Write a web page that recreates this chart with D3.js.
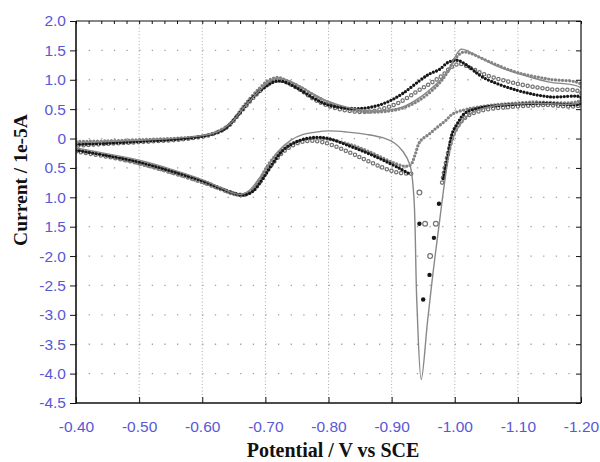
<!DOCTYPE html>
<html><head><meta charset="utf-8">
<script src="https://cdn.jsdelivr.net/npm/d3@7"></script>
<style>body{margin:0;background:#fff}</style>
</head><body>
<svg id="c" width="600" height="462"></svg>
<script>
// ---------- data ----------
const xTickValues = [-0.40,-0.50,-0.60,-0.70,-0.80,-0.90,-1.00,-1.10,-1.20];
const xTickLabels = ["-0.40","-0.50","-0.60","-0.70","-0.80","-0.90","-1.00","-1.10","-1.20"];
const yTickValues = [2.0,1.5,1.0,0.5,0,-0.5,-1.0,-1.5,-2.0,-2.5,-3.0,-3.5,-4.0,-4.5];
const yTickLabels = ["2.0","1.5","1.0","0.5","0","0.5","1.0","1.5","-2.0","-2.5","-3.0","-3.5","-4.0","-4.5"];
const xTitle = "Potential / V vs SCE";
const yTitle = "Current / 1e-5A";

// scan A: solid line  [potential V, current 1e-5 A]
const scanLine = [
 [-0.40,-0.16],[-0.45,-0.26],[-0.50,-0.37],[-0.55,-0.52],[-0.60,-0.70],[-0.63,-0.84],[-0.65,-0.93],[-0.662,-0.95],
 [-0.675,-0.88],[-0.69,-0.68],[-0.705,-0.45],[-0.72,-0.22],[-0.74,-0.03],[-0.76,0.07],[-0.78,0.11],[-0.80,0.13],
 [-0.83,0.11],[-0.86,0.07],[-0.887,0.01],[-0.905,-0.08],[-0.918,-0.22],[-0.929,-0.45],[-0.935,-0.95],[-0.94,-2.8],
 [-0.947,-4.1],[-0.957,-3.1],[-0.966,-2.25],[-0.976,-1.4],[-0.985,-0.66],[-0.992,-0.2],[-0.998,0.03],[-1.006,0.2],
 [-1.024,0.42],[-1.06,0.55],[-1.12,0.60],[-1.20,0.63],
 [-1.20,0.86],[-1.15,0.96],[-1.124,1.03],[-1.072,1.21],[-1.045,1.35],[-1.024,1.47],[-1.01,1.52],[-1.0,1.38],
 [-0.988,1.12],[-0.972,0.94],[-0.945,0.70],[-0.918,0.54],[-0.89,0.48],[-0.866,0.47],[-0.83,0.53],[-0.80,0.63],
 [-0.776,0.76],[-0.755,0.89],[-0.738,0.98],[-0.722,1.03],[-0.71,1.0],[-0.695,0.86],[-0.67,0.58],[-0.645,0.26],
 [-0.625,0.12],[-0.60,0.05],[-0.55,0.0],[-0.50,-0.03],[-0.45,-0.05],[-0.40,-0.07]
];

// scan B: filled black dots
const dotsBefore = [
 [-0.40,-0.20],[-0.45,-0.29],[-0.50,-0.40],[-0.55,-0.55],[-0.60,-0.72],[-0.63,-0.85],[-0.65,-0.93],[-0.665,-0.96],
 [-0.68,-0.90],[-0.695,-0.70],[-0.71,-0.45],[-0.73,-0.18],[-0.755,-0.03],[-0.78,0.02],[-0.80,0.0],[-0.834,-0.13],
 [-0.86,-0.24],[-0.887,-0.37],[-0.913,-0.51],[-0.928,-0.60]
];
const dotsSpike = [[-0.944,-1.45],[-0.95,-2.74],[-0.96,-2.32],[-0.967,-1.69],[-0.975,-1.11]];
const dotsAfter = [
 [-0.982,-0.68],[-0.99,-0.25],[-0.996,0.09],[-1.005,0.27],[-1.016,0.43],[-1.04,0.52],[-1.08,0.57],[-1.14,0.60],[-1.20,0.60],
 [-1.20,0.70],[-1.15,0.71],[-1.099,0.82],[-1.045,1.04],[-1.02,1.24],[-1.005,1.33],[-0.99,1.30],[-0.975,1.17],[-0.96,1.10],
 [-0.945,0.99],[-0.918,0.77],[-0.895,0.63],[-0.87,0.54],[-0.84,0.51],[-0.80,0.57],[-0.776,0.69],[-0.75,0.86],[-0.728,0.97],
 [-0.715,0.97],[-0.70,0.88],[-0.68,0.70],[-0.655,0.38],[-0.635,0.16],[-0.61,0.06],[-0.58,0.01],[-0.55,-0.02],[-0.50,-0.05],
 [-0.45,-0.08],[-0.40,-0.10]
];

// scan C: open circles
const ringsBefore = [
 [-0.40,-0.22],[-0.45,-0.31],[-0.50,-0.42],[-0.55,-0.57],[-0.60,-0.74],[-0.63,-0.86],[-0.655,-0.95],[-0.67,-0.95],
 [-0.685,-0.82],[-0.70,-0.60],[-0.715,-0.38],[-0.735,-0.17],[-0.76,-0.05],[-0.79,-0.06],[-0.834,-0.24],[-0.86,-0.37],
 [-0.887,-0.50],[-0.91,-0.58],[-0.932,-0.60]
];
const ringsSpike = [[-0.944,-0.92],[-0.953,-1.45],[-0.961,-2.0],[-0.97,-1.45]];
const ringsAfter = [
 [-0.98,-0.75],[-0.99,-0.22],[-1.0,0.12],[-1.016,0.35],[-1.04,0.47],[-1.08,0.53],[-1.14,0.57],[-1.20,0.58],
 [-1.20,0.78],[-1.15,0.84],[-1.10,0.93],[-1.05,1.08],[-1.025,1.20],[-1.008,1.27],[-0.995,1.22],[-0.98,1.07],
 [-0.96,0.93],[-0.94,0.80],[-0.915,0.63],[-0.89,0.52],[-0.865,0.46],[-0.84,0.46],[-0.81,0.52],[-0.78,0.65],
 [-0.755,0.83],[-0.735,0.95],[-0.72,0.99],[-0.705,0.93],[-0.685,0.74],[-0.66,0.44],[-0.64,0.20],[-0.615,0.07],
 [-0.58,0.0],[-0.55,-0.03],[-0.50,-0.06],[-0.45,-0.09],[-0.40,-0.12]
];

// scan D: triangles
const triScan = [
 [-0.40,-0.18],[-0.45,-0.30],[-0.50,-0.43],[-0.55,-0.58],[-0.60,-0.75],[-0.63,-0.87],[-0.65,-0.95],[-0.665,-0.97],
 [-0.678,-0.90],[-0.69,-0.72],[-0.70,-0.52],[-0.715,-0.30],[-0.735,-0.12],[-0.76,-0.02],[-0.79,0.0],[-0.834,-0.10],
 [-0.87,-0.25],[-0.90,-0.40],[-0.92,-0.47],[-0.93,-0.45],[-0.937,-0.28],[-0.945,-0.05],[-0.96,0.08],[-0.972,0.19],
 [-0.985,0.30],[-0.997,0.42],[-1.02,0.50],[-1.06,0.57],[-1.12,0.62],[-1.20,0.66],
 [-1.20,0.92],[-1.15,1.01],[-1.10,1.12],[-1.065,1.26],[-1.04,1.38],[-1.025,1.45],[-1.013,1.47],[-1.0,1.35],
 [-0.988,1.12],[-0.972,0.90],[-0.945,0.66],[-0.918,0.52],[-0.89,0.46],[-0.866,0.45],[-0.84,0.48],[-0.81,0.57],
 [-0.78,0.72],[-0.755,0.88],[-0.735,0.98],[-0.72,1.04],[-0.705,0.99],[-0.69,0.85],[-0.665,0.55],[-0.645,0.26],
 [-0.62,0.10],[-0.60,0.04],[-0.55,0.0],[-0.50,-0.02],[-0.45,-0.04],[-0.40,-0.05]
];

// ---------- drawing ----------
const L = 76, R = 581, T = 21, B = 403;
const svg = d3.select("#c");
const x = d3.scaleLinear().domain([-0.40, -1.20]).range([L, R]);
const y = d3.scaleLinear().domain([-4.5, 2.0]).range([B, T]);
const tickColor = "#5858d6";

svg.append("rect").attr("width", 600).attr("height", 462).attr("fill", "#fff");

// grid
const g = svg.append("g");
g.selectAll("line.v").data(xTickValues.slice(1, -1)).join("line")
  .attr("x1", d => x(d)).attr("x2", d => x(d)).attr("y1", T).attr("y2", B)
  .attr("stroke", "#a8a8a8").attr("stroke-width", 1).attr("stroke-dasharray", "1,2.3");
g.selectAll("line.h").data(yTickValues.slice(1, -1)).join("line")
  .attr("x1", L).attr("x2", R).attr("y1", d => y(d)).attr("y2", d => y(d))
  .attr("stroke", "#a0a0a0").attr("stroke-width", 1.3).attr("stroke-dasharray", "1.3,11.325");

// clip
svg.append("clipPath").attr("id", "clip").append("rect")
  .attr("x", L).attr("y", T).attr("width", R - L).attr("height", B - T);
const plot = svg.append("g").attr("clip-path", "url(#clip)");

const line = d3.line().x(d => x(d[0])).y(d => y(d[1])).curve(d3.curveCatmullRom.alpha(0.5));

// C rings
[ringsBefore, ringsAfter].forEach(seg => {
  plot.append("path").attr("d", line(seg)).attr("fill", "none")
    .attr("stroke", "#737373").attr("stroke-width", 4.6).attr("stroke-linecap", "round").attr("stroke-dasharray", "0,5");
  plot.append("path").attr("d", line(seg)).attr("fill", "none")
    .attr("stroke", "#fff").attr("stroke-width", 2.1).attr("stroke-linecap", "round").attr("stroke-dasharray", "0,5");
});
plot.selectAll("circle.rs").data(ringsSpike).join("circle")
  .attr("cx", d => x(d[0])).attr("cy", d => y(d[1])).attr("r", 2.4)
  .attr("fill", "#fff").attr("stroke", "#737373").attr("stroke-width", 1.2);

// D triangles
plot.append("path").attr("d", line(triScan)).attr("fill", "none")
  .attr("stroke", "#828282").attr("stroke-width", 3.3).attr("stroke-linecap", "round").attr("stroke-dasharray", "0,3.5");

// B dots
[dotsBefore, dotsAfter].forEach(seg => {
  plot.append("path").attr("d", line(seg)).attr("fill", "none")
    .attr("stroke", "#161616").attr("stroke-width", 3.3).attr("stroke-linecap", "round").attr("stroke-dasharray", "0,3.4");
});
plot.selectAll("circle.ds").data(dotsSpike).join("circle")
  .attr("cx", d => x(d[0])).attr("cy", d => y(d[1])).attr("r", 2.2).attr("fill", "#161616");

// A solid line
plot.append("path").attr("d", line(scanLine)).attr("fill", "none")
  .attr("stroke", "#888").attr("stroke-width", 1.4);

// axes
const font = "'Liberation Sans', Arial, sans-serif";
const yMinor = d3.range(-4.5, 2.0001, 0.05);
const xMinor = d3.range(-0.40, -1.2001, -0.02);
const yMinorR = d3.range(-4.5, 2.0001, 0.1);

// left
const ax = svg.append("g").attr("transform", `translate(${L},0)`);
ax.call(d3.axisLeft(y).tickValues(yMinor).tickSize(3).tickFormat(""));
ax.call(d3.axisLeft(y).tickValues(yTickValues).tickSize(6).tickPadding(4).tickFormat((d, i) => yTickLabels[i]));
// bottom
const bx = svg.append("g").attr("transform", `translate(0,${B})`);
bx.call(d3.axisBottom(x).tickValues(xMinor).tickSize(-4).tickFormat(""));
bx.call(d3.axisBottom(x).tickValues(xTickValues).tickSize(-6).tickPadding(18).tickFormat((d, i) => xTickLabels[i]));
// top
const tx = svg.append("g").attr("transform", `translate(0,${T})`);
tx.call(d3.axisTop(x).tickValues(xMinor).tickSize(-3).tickFormat(""));
// right
const rx = svg.append("g").attr("transform", `translate(${R},0)`);
rx.call(d3.axisRight(y).tickValues(yMinorR).tickSize(-3).tickFormat(""));
rx.call(d3.axisRight(y).tickValues(yTickValues).tickSize(-5).tickFormat(""));

svg.selectAll(".domain").remove();
svg.selectAll(".tick line").attr("stroke", "#111").attr("stroke-width", 1);
svg.selectAll(".tick text").attr("fill", tickColor).attr("font-family", font).attr("font-size", "15.5px");

// frame
svg.append("line").attr("x1", L).attr("x2", L).attr("y1", T).attr("y2", B + 0.5).attr("stroke", "#111").attr("stroke-width", 1.6);
svg.append("line").attr("x1", L).attr("x2", R).attr("y1", B).attr("y2", B).attr("stroke", "#111").attr("stroke-width", 1.6);
svg.append("line").attr("x1", L).attr("x2", R).attr("y1", T).attr("y2", T).attr("stroke", "#111").attr("stroke-width", 1.2);
svg.append("line").attr("x1", R).attr("x2", R).attr("y1", T).attr("y2", B).attr("stroke", "#111").attr("stroke-width", 1.2);

// titles
svg.append("text").attr("x", 333).attr("y", 457).attr("text-anchor", "middle")
  .attr("font-family", "'Liberation Serif', 'Times New Roman', serif").attr("font-weight", "bold")
  .attr("font-size", "20px").attr("fill", "#111").text(xTitle);
svg.append("text").attr("transform", "translate(27,180) rotate(-90)").attr("text-anchor", "middle")
  .attr("font-family", "'Liberation Serif', 'Times New Roman', serif").attr("font-weight", "bold")
  .attr("font-size", "19.5px").attr("fill", "#111").text(yTitle);
</script>
</body></html>
